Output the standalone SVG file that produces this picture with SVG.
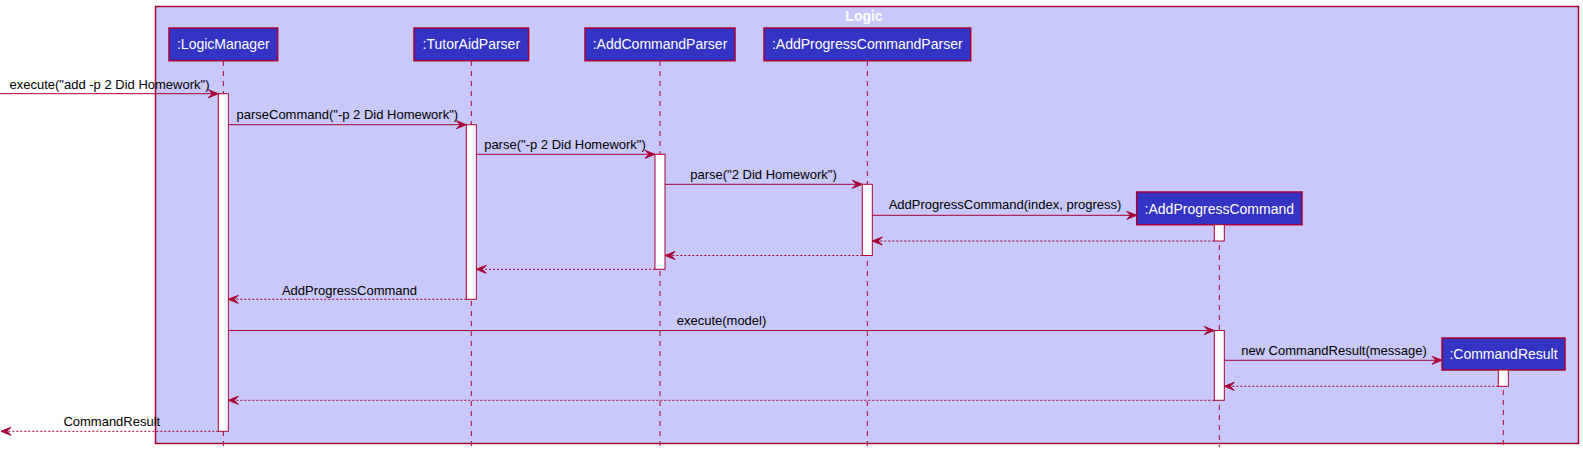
<svg xmlns="http://www.w3.org/2000/svg" width="1583" height="455" viewBox="0 0 1583 455">
<style>
.frame{fill:#C8C8FA;stroke:#A80036;stroke-width:1.5}
.ftitle{font-family:"Liberation Sans",Arial,sans-serif;font-size:14px;font-weight:bold;fill:#FFFFFF;text-anchor:middle}
.pbox{fill:#3333C4;stroke:#A80036;stroke-width:1.5}
.pname{font-family:"Liberation Sans",Arial,sans-serif;font-size:14px;fill:#FFFFFF;text-anchor:middle}
.life{stroke:#A80036;stroke-width:1;stroke-dasharray:5,5;fill:none}
.act{fill:#FFFFFF;stroke:#A80036;stroke-width:1}
.msg{stroke:#A80036;stroke-width:1;fill:none}
.ret{stroke:#A80036;stroke-width:1;stroke-dasharray:2,2;fill:none}
.head{fill:#A80036;stroke:#A80036;stroke-width:1}
.lbl{font-family:"Liberation Sans",Arial,sans-serif;font-size:13px;fill:#000000;text-anchor:middle}
</style>
<rect class="frame" x="155.5" y="6.5" width="1423" height="437"/>
<text class="ftitle" x="864" y="20.7">Logic</text>

<g id="lifelines">
<line class="life" x1="223.3" y1="61" x2="223.3" y2="447"/>
<line class="life" x1="471.3" y1="61" x2="471.3" y2="447"/>
<line class="life" x1="660" y1="61" x2="660" y2="447"/>
<line class="life" x1="867.3" y1="61" x2="867.3" y2="447"/>
<line class="life" x1="1219.3" y1="225" x2="1219.3" y2="447"/>
<line class="life" x1="1503.3" y1="370" x2="1503.3" y2="447"/>
</g>

<g id="LogicManager">
<rect class="pbox" x="169" y="28" width="108.7" height="32.7"/>
<text class="pname" x="223.3" y="49.3">:LogicManager</text>
<rect class="act" x="218.3" y="93.7" width="10" height="337.6"/>
</g>
<g id="TutorAidParser">
<rect class="pbox" x="414" y="28" width="114.6" height="32.7"/>
<text class="pname" x="471.3" y="49.3">:TutorAidParser</text>
<rect class="act" x="466.3" y="124.7" width="10" height="174.6"/>
</g>
<g id="AddCommandParser">
<rect class="pbox" x="585" y="28" width="150" height="32.7"/>
<text class="pname" x="660" y="49.3">:AddCommandParser</text>
<rect class="act" x="655" y="154.3" width="10" height="115"/>
</g>
<g id="AddProgressCommandParser">
<rect class="pbox" x="764" y="28" width="206.7" height="32.7"/>
<text class="pname" x="867.3" y="49.3">:AddProgressCommandParser</text>
<rect class="act" x="862.3" y="184.3" width="10" height="71.2"/>
</g>
<g id="AddProgressCommand">
<rect class="pbox" x="1136.7" y="192" width="165.3" height="32.7"/>
<text class="pname" x="1219.3" y="213.5">:AddProgressCommand</text>
<rect class="act" x="1214.3" y="224.7" width="10" height="16.3"/>
<rect class="act" x="1214.3" y="330.5" width="10" height="69.8"/>
</g>
<g id="CommandResult">
<rect class="pbox" x="1442" y="338" width="123" height="32"/>
<text class="pname" x="1503.5" y="359.3">:CommandResult</text>
<rect class="act" x="1498.3" y="370" width="10" height="16.3"/>
</g>

<g id="connectors">
<!-- solid calls -->
<line class="msg" x1="0" y1="93.7" x2="217" y2="93.7"/>
<polygon class="head" points="208.3,89.7 218.3,93.7 208.3,97.7 212.3,93.7"/>
<text class="lbl" x="109.5" y="88.7">execute("add -p 2 Did Homework")</text>

<line class="msg" x1="228.3" y1="124.7" x2="465" y2="124.7"/>
<polygon class="head" points="456.3,120.7 466.3,124.7 456.3,128.7 460.3,124.7"/>
<text class="lbl" x="347.3" y="119.2">parseCommand("-p 2 Did Homework")</text>

<line class="msg" x1="476.3" y1="154.3" x2="654" y2="154.3"/>
<polygon class="head" points="645,150.3 655,154.3 645,158.3 649,154.3"/>
<text class="lbl" x="565" y="149">parse("-p 2 Did Homework")</text>

<line class="msg" x1="665" y1="184.3" x2="861" y2="184.3"/>
<polygon class="head" points="852.3,180.3 862.3,184.3 852.3,188.3 856.3,184.3"/>
<text class="lbl" x="763.5" y="179.3">parse("2 Did Homework")</text>

<line class="msg" x1="872.3" y1="215.3" x2="1135.5" y2="215.3"/>
<polygon class="head" points="1126.7,211.3 1136.7,215.3 1126.7,219.3 1130.7,215.3"/>
<text class="lbl" x="1005" y="209.3">AddProgressCommand(index, progress)</text>

<line class="msg" x1="228.3" y1="330.5" x2="1213" y2="330.5"/>
<polygon class="head" points="1204.3,326.5 1214.3,330.5 1204.3,334.5 1208.3,330.5"/>
<text class="lbl" x="721.5" y="325">execute(model)</text>

<line class="msg" x1="1224.3" y1="360.3" x2="1441" y2="360.3"/>
<polygon class="head" points="1432,356.3 1442,360.3 1432,364.3 1436,360.3"/>
<text class="lbl" x="1334" y="355">new CommandResult(message)</text>

<!-- dashed returns -->
<line class="ret" x1="1214.3" y1="241" x2="873.5" y2="241"/>
<polygon class="head" points="882.3,237 872.3,241 882.3,245 878.3,241"/>

<line class="ret" x1="862.3" y1="255.5" x2="666" y2="255.5"/>
<polygon class="head" points="675,251.5 665,255.5 675,259.5 671,255.5"/>

<line class="ret" x1="655" y1="269.3" x2="477.5" y2="269.3"/>
<polygon class="head" points="486.3,265.3 476.3,269.3 486.3,273.3 482.3,269.3"/>

<line class="ret" x1="466.3" y1="299.3" x2="229.5" y2="299.3"/>
<polygon class="head" points="238.3,295.3 228.3,299.3 238.3,303.3 234.3,299.3"/>
<text class="lbl" x="349.5" y="294.5">AddProgressCommand</text>

<line class="ret" x1="1498.3" y1="386.3" x2="1225.5" y2="386.3"/>
<polygon class="head" points="1234.3,382.3 1224.3,386.3 1234.3,390.3 1230.3,386.3"/>

<line class="ret" x1="1214.3" y1="400.3" x2="229.5" y2="400.3"/>
<polygon class="head" points="238.3,396.3 228.3,400.3 238.3,404.3 234.3,400.3"/>

<line class="ret" x1="218.3" y1="431.3" x2="1.5" y2="431.3"/>
<polygon class="head" points="11,427.3 1,431.3 11,435.3 7,431.3"/>
<text class="lbl" x="111.8" y="425.7">CommandResult</text>
</g>
</svg>
